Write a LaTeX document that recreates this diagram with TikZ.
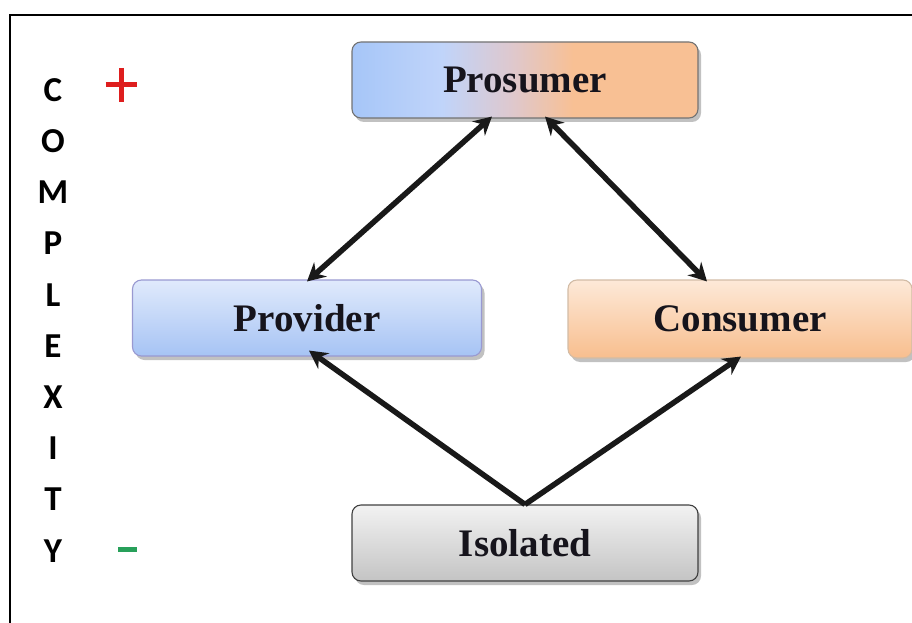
\documentclass[tikz,border=0pt]{standalone}
\usepackage{fontspec}
\setmainfont{Liberation Serif}
\newfontfamily\lettersfont{Carlito}
\usetikzlibrary{arrows.meta,shadows}

\definecolor{provTop}{RGB}{224,234,252}
\definecolor{provBot}{RGB}{166,195,244}
\definecolor{consTop}{RGB}{253,233,216}
\definecolor{consBot}{RGB}{248,190,142}
\definecolor{isoTop}{RGB}{242,242,242}
\definecolor{isoBot}{RGB}{196,196,196}
\definecolor{proBlueA}{RGB}{166,198,248}
\definecolor{proBlueB}{RGB}{192,212,250}
\definecolor{proMix}{RGB}{222,200,206}
\definecolor{proOrange}{RGB}{248,192,148}
\definecolor{boxText}{RGB}{22,20,28}
\definecolor{plusRed}{RGB}{222,30,30}
\definecolor{minusGreen}{RGB}{40,160,90}

% left-to-right blend used by the top box
\pgfdeclarehorizontalshading{prosumershade}{100bp}{%
  color(0bp)=(proBlueA); color(25bp)=(proBlueA); color(38bp)=(proBlueB);
  color(48bp)=(proMix); color(57bp)=(proOrange); color(75bp)=(proOrange);
  color(100bp)=(proOrange)}

\tikzset{
  rolebox/.style={rectangle, rounded corners=9pt, minimum width=346pt,
    minimum height=76pt, inner sep=0pt, line width=1.1pt,
    font=\bfseries\fontsize{39}{44}\selectfont, text=boxText,
    drop shadow={shadow xshift=3pt, shadow yshift=-4pt, opacity=0.35, fill=black!70}},
  link/.style={line width=5.5pt, black!90,
    {Stealth[length=18pt,width=19pt,inset=6pt]}-{Stealth[length=18pt,width=19pt,inset=6pt]}},
  uplink/.style={line width=5.5pt, black!90,
    -{Stealth[length=18pt,width=19pt,inset=6pt]}},
  axisletter/.style={font=\lettersfont\bfseries\fontsize{35}{40}\selectfont, text=black},
  signbar/.style={line width=5pt}
}

\begin{document}
\begin{tikzpicture}[x=1pt,y=-1pt]
  \useasboundingbox (0,0) rectangle (912,623);
  \begin{scope}
    \clip (0,0) rectangle (912,623);
    % outer frame (runs off the right and bottom edges)
    \draw[line width=2.2pt] (10,640) -- (10,15) -- (930,15);

    \node[rolebox, draw=black!55, shading=prosumershade] (pros) at (525,80) {Prosumer};
    \node[rolebox, draw=black!45!blue!40, top color=provTop, bottom color=provBot,
          minimum width=349pt] (prov) at (307,318) {Provider};
    \node[rolebox, draw=orange!50!black!35, top color=consTop, bottom color=consBot,
          minimum width=344pt, minimum height=78pt] (cons) at (740,319) {Consumer};
    \node[rolebox, draw=black!75, top color=isoTop, bottom color=isoBot] (iso) at (525,543) {Isolated};

    \draw[link] ([xshift=-33pt,yshift=2pt]pros.south) -- ([yshift=-2pt]prov.north);
    \draw[link] ([xshift=20pt,yshift=2pt]pros.south) -- ([xshift=-33pt,yshift=-2pt]cons.north);
    \draw[uplink] (iso.north) -- ([xshift=2pt,yshift=6pt]prov.south);
    \draw[uplink] (iso.north) -- ([xshift=1pt,yshift=2pt]cons.south);

    % vertical axis label
    \foreach \ch [count=\i from 0] in {C,O,M,P,L,E,X,I,T,Y}
      \node[axisletter] (ax\i) at (53, 90+51.2*\i) {\ch};

    % plus and minus signs beside the axis
    \coordinate (plus) at (121,85);
    \draw[signbar, plusRed] ([xshift=-15.5pt]plus) -- ([xshift=15.5pt]plus);
    \draw[signbar, plusRed] ([yshift=17pt]plus) -- ([yshift=-17pt]plus);
    \coordinate (minus) at (127.5,549.5);
    \draw[signbar, minusGreen] ([xshift=-9.5pt]minus) -- ([xshift=9.5pt]minus);
  \end{scope}
\end{tikzpicture}
\end{document}
